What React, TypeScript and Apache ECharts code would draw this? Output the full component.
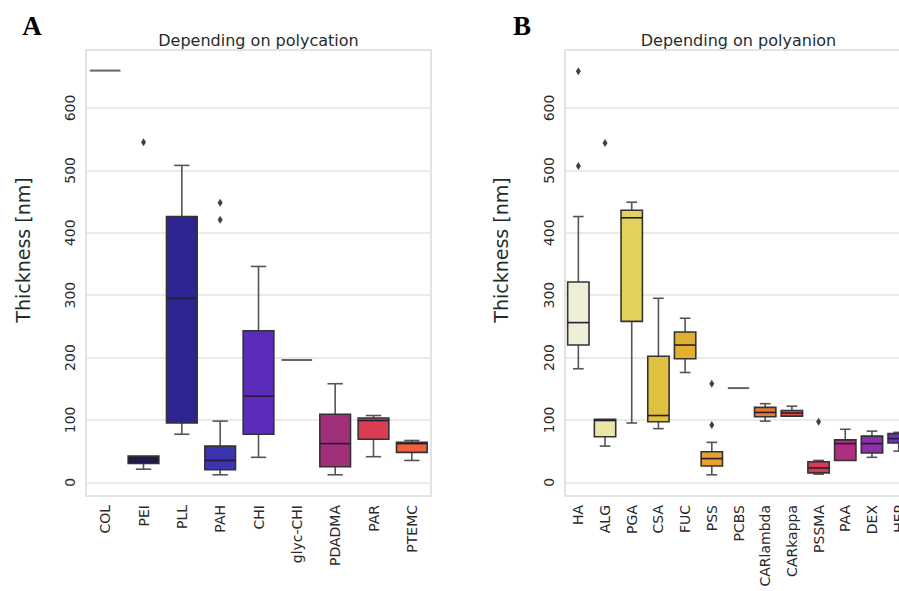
import React, { useEffect, useRef } from "react";
import * as echarts from "echarts";

const leftCategories = ["COL", "PEI", "PLL", "PAH", "CHI", "glyc-CHI", "PDADMA", "PAR", "PTEMC"];
const leftMin = [660, 21, 77, 12, 40, 196, 12, 41, 35];
const leftQ1 = [660, 30, 95, 20, 77, 196, 25, 69, 48];
const leftMedian = [660, 36, 295, 35, 138, 196, 62, 99, 62];
const leftQ3 = [660, 42, 426, 58, 243, 196, 109, 103, 64];
const leftMax = [660, 42, 508, 98, 346, 196, 158, 107, 67];
const leftOutliers: [string, number][] = [["PEI", 545], ["PAH", 448], ["PAH", 421]];
const leftColors = ["#666666", "#1c1850", "#2d2592", "#3b33b0", "#5b2bb9", "#666666", "#a0307a", "#dc3c50", "#f0603a"];

const rightCategories = ["HA", "ALG", "PGA", "CSA", "FUC", "PSS", "PCBS", "CARlambda", "CARkappa", "PSSMA", "PAA", "DEX", "HEP"];
const rightMin = [182, 58, 95, 86, 176, 12, 151, 98, 106, 13, 35, 40, 50];
const rightQ1 = [220, 73, 258, 97, 198, 26, 151, 105, 106, 15, 35, 47, 63];
const rightMedian = [256, 99, 424, 107, 220, 38, 151, 112, 111, 23, 62, 62, 70];
const rightQ3 = [321, 101, 436, 202, 241, 49, 151, 120, 115, 33, 68, 74, 78];
const rightMax = [426, 101, 449, 295, 263, 64, 151, 126, 122, 35, 85, 82, 80];
const rightOutliers: [string, number][] = [["HA", 659], ["HA", 507], ["ALG", 544], ["PSS", 158], ["PSS", 92], ["PSSMA", 97]];
const rightColors = ["#efeed6", "#ebe6a6", "#e4d15e", "#e0c03f", "#e2b030", "#e8a028", "#666666", "#e87a30", "#e05545", "#d63c55", "#b02e80", "#8a30a8", "#6a30c0"];

const yTicks = [0, 100, 200, 300, 400, 500, 600];

const FONT = "DejaVu Sans";
const CHART_W = 912;

function boxData(mins: number[], q1: number[], med: number[], q3: number[], maxs: number[]) {
  return mins.map((v, i) => [i, v, q1[i], med[i], q3[i], maxs[i]]);
}

function makeRender(colors: string[]) {
  return (params: any, api: any) => {
    const cat = api.value(0);
    const lo = api.value(1);
    const q1 = api.value(2);
    const med = api.value(3);
    const q3 = api.value(4);
    const hi = api.value(5);
    const band = api.size([1, 0])[0];
    const bw = band * 0.8;
    const cx = api.coord([cat, med])[0];
    const y = (v: number) => api.coord([cat, v])[1];
    const color = colors[params.dataIndex];
    const edge = "#333333";
    const whisk = "#555555";
    if (lo === hi) {
      return {
        type: "line",
        shape: { x1: cx - bw / 2, y1: y(med), x2: cx + bw / 2, y2: y(med) },
        style: { stroke: color, lineWidth: 2 },
      };
    }
    const cap = bw / 4;
    const children: any[] = [];
    if (hi > q3) {
      children.push({ type: "line", shape: { x1: cx, y1: y(q3), x2: cx, y2: y(hi) }, style: { stroke: whisk, lineWidth: 1.6 } });
      children.push({ type: "line", shape: { x1: cx - cap, y1: y(hi), x2: cx + cap, y2: y(hi) }, style: { stroke: whisk, lineWidth: 1.6 } });
    }
    if (lo < q1) {
      children.push({ type: "line", shape: { x1: cx, y1: y(q1), x2: cx, y2: y(lo) }, style: { stroke: whisk, lineWidth: 1.6 } });
      children.push({ type: "line", shape: { x1: cx - cap, y1: y(lo), x2: cx + cap, y2: y(lo) }, style: { stroke: whisk, lineWidth: 1.6 } });
    }
    children.push({
      type: "rect",
      shape: { x: cx - bw / 2, y: y(q3), width: bw, height: y(q1) - y(q3) },
      style: { fill: color, stroke: edge, lineWidth: 1.6 },
    });
    children.push({
      type: "line",
      shape: { x1: cx - bw / 2, y1: y(med), x2: cx + bw / 2, y2: y(med) },
      style: { stroke: "#2a1a3a", lineWidth: 1.6 },
    });
    return { type: "group", children };
  };
}

function yAxisOpt(gridIndex: number) {
  return {
    type: "value",
    gridIndex,
    min: -22,
    max: 693,
    splitNumber: 7,
    minInterval: 100,
    maxInterval: 100,
    axisLine: { show: false },
    axisTick: { show: false },
    axisLabel: {
      rotate: 90,
      margin: 9,
      fontFamily: FONT,
      fontSize: 14,
      color: "#2a2a2a",
      formatter: (v: number) => (yTicks.includes(Math.round(v)) && Math.abs(v - Math.round(v)) < 1e-6 ? String(Math.round(v)) : ""),
    },
    splitLine: { show: true, lineStyle: { color: "#e3e3e3", width: 1.5 } },
  };
}

function xAxisOpt(gridIndex: number, data: string[]) {
  return {
    type: "category",
    gridIndex,
    data,
    axisLine: { show: false },
    axisTick: { show: false },
    splitLine: { show: false },
    axisLabel: {
      rotate: 90,
      interval: 0,
      margin: 9,
      fontFamily: FONT,
      fontSize: 14,
      color: "#2a2a2a",
    },
  };
}

export default function App() {
  const ref = useRef<HTMLDivElement>(null);
  useEffect(() => {
    if (!ref.current) return;
    const chart = echarts.init(ref.current, undefined, { renderer: "svg" });
    const option: any = {
      animation: false,
      backgroundColor: "#ffffff",
      textStyle: { fontFamily: FONT },
      grid: [
        { left: 86, right: CHART_W - 431, top: 50, bottom: 95, show: true, borderColor: "#dadada", borderWidth: 1.5, backgroundColor: "#ffffff" },
        { left: 565, right: 0, top: 50, bottom: 95, show: true, borderColor: "#dadada", borderWidth: 1.5, backgroundColor: "#ffffff" },
      ],
      xAxis: [xAxisOpt(0, leftCategories), xAxisOpt(1, rightCategories)],
      yAxis: [yAxisOpt(0), yAxisOpt(1)],
      graphic: [
        { type: "text", x: 32, y: 26, style: { text: "A", font: "bold 27px 'Liberation Serif'", fill: "#000", align: "center", verticalAlign: "middle" } },
        { type: "text", x: 522, y: 26, style: { text: "B", font: "bold 27px 'Liberation Serif'", fill: "#000", align: "center", verticalAlign: "middle" } },
        { type: "text", x: 258.5, y: 40, style: { text: "Depending on polycation", font: "16px 'DejaVu Sans'", fill: "#1f2d2d", align: "center", verticalAlign: "middle" } },
        { type: "text", x: 738.5, y: 40, style: { text: "Depending on polyanion", font: "16px 'DejaVu Sans'", fill: "#1f2d2d", align: "center", verticalAlign: "middle" } },
        { type: "text", x: 23, y: 250, rotation: Math.PI / 2, style: { text: "Thickness [nm]", font: "19px 'DejaVu Sans'", fill: "#1f2d2d", align: "center", verticalAlign: "middle" } },
        { type: "text", x: 501, y: 250, rotation: Math.PI / 2, style: { text: "Thickness [nm]", font: "19px 'DejaVu Sans'", fill: "#1f2d2d", align: "center", verticalAlign: "middle" } },
      ],
      series: [
        {
          type: "custom",
          xAxisIndex: 0,
          yAxisIndex: 0,
          renderItem: makeRender(leftColors),
          encode: { x: 0, y: [1, 2, 3, 4, 5] },
          data: boxData(leftMin, leftQ1, leftMedian, leftQ3, leftMax),
          z: 2,
        },
        {
          type: "custom",
          xAxisIndex: 1,
          yAxisIndex: 1,
          renderItem: makeRender(rightColors),
          encode: { x: 0, y: [1, 2, 3, 4, 5] },
          data: boxData(rightMin, rightQ1, rightMedian, rightQ3, rightMax),
          z: 2,
        },
        {
          type: "scatter",
          xAxisIndex: 0,
          yAxisIndex: 0,
          symbol: "diamond",
          symbolSize: [5, 8],
          itemStyle: { color: "#111111" },
          data: leftOutliers,
          z: 3,
        },
        {
          type: "scatter",
          xAxisIndex: 1,
          yAxisIndex: 1,
          symbol: "diamond",
          symbolSize: [5, 8],
          itemStyle: { color: "#111111" },
          data: rightOutliers,
          z: 3,
        },
      ],
    };
    chart.setOption(option);
    return () => chart.dispose();
  }, []);
  return (
    <div style={{ position: "absolute", left: 0, top: 0, width: 899, height: 591, overflow: "hidden" }}>
      <div ref={ref} style={{ width: CHART_W, height: 591 }} />
    </div>
  );
}
